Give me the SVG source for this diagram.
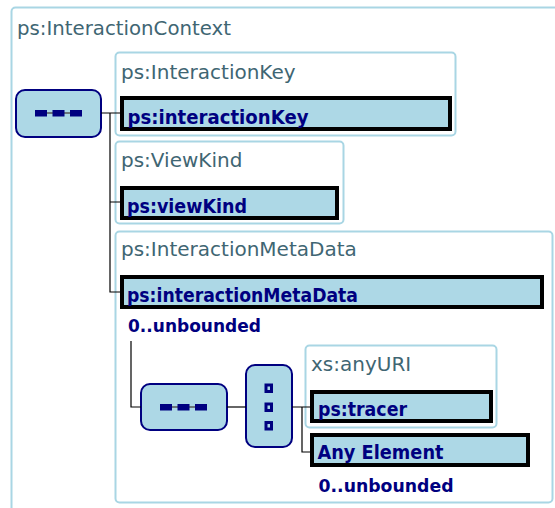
<svg xmlns="http://www.w3.org/2000/svg" width="555" height="508" viewBox="0 0 555 508">
<style>
.frame{fill:#fff;stroke:#a9d6e4;stroke-width:2}
.title{font-family:"DejaVu Sans",Verdana,sans-serif;font-size:20px;fill:#3f6673}
.el{fill:#add8e6;stroke:#000;stroke-width:4}
.elt{font-family:"DejaVu Sans",Verdana,sans-serif;font-size:19px;font-weight:bold;fill:#000080}
.card{font-family:"DejaVu Sans",Verdana,sans-serif;font-size:18px;font-weight:bold;fill:#000080}
.comp{fill:#add8e6;stroke:#000080;stroke-width:2}
.ico{fill:#000080}
.conn{fill:none;stroke:#000;stroke-width:1.2}
</style>
<rect width="555" height="508" fill="#fff"/>
<g id="InteractionContext">
<rect class="frame" x="11.5" y="7.5" width="560" height="520" rx="4"/>
<text class="title" x="17" y="35" textLength="214" lengthAdjust="spacingAndGlyphs">ps:InteractionContext</text>
</g>
<g id="seq1">
<rect class="comp" x="16" y="90" width="85" height="47" rx="9"/>
<line x1="36" y1="113" x2="81" y2="113" stroke="#555" stroke-width="1.5"/>
<rect class="ico" x="35" y="110" width="12" height="6.5"/>
<rect class="ico" x="52.5" y="110" width="12" height="6.5"/>
<rect class="ico" x="70" y="110" width="12" height="6.5"/>
</g>
<g id="InteractionKey">
<rect class="frame" x="115.5" y="52.5" width="340" height="83" rx="4"/>
<text class="title" x="121" y="79">ps:InteractionKey</text>
<rect class="el" x="122" y="98" width="328" height="31"/>
<text class="elt" x="127.5" y="123.5" textLength="181" lengthAdjust="spacingAndGlyphs">ps:interactionKey</text>
</g>
<g id="ViewKind">
<rect class="frame" x="115.5" y="141.5" width="228" height="82" rx="4"/>
<text class="title" x="121" y="167">ps:ViewKind</text>
<rect class="el" x="122" y="188" width="215" height="30"/>
<text class="elt" x="127" y="213" textLength="120" lengthAdjust="spacingAndGlyphs">ps:viewKind</text>
</g>
<g id="InteractionMetaData">
<rect class="frame" x="115.5" y="231.5" width="437" height="271" rx="4"/>
<text class="title" x="121" y="256">ps:InteractionMetaData</text>
<rect class="el" x="122" y="277" width="420" height="30"/>
<text class="elt" x="127" y="302" textLength="231" lengthAdjust="spacingAndGlyphs">ps:interactionMetaData</text>
<text class="card" x="128" y="332" textLength="133" lengthAdjust="spacingAndGlyphs">0..unbounded</text>
</g>
<g id="seq2">
<rect class="comp" x="141" y="384" width="86" height="46" rx="9"/>
<line x1="161" y1="407" x2="206" y2="407" stroke="#555" stroke-width="1.5"/>
<rect class="ico" x="160" y="404" width="12" height="6.5"/>
<rect class="ico" x="177.5" y="404" width="12" height="6.5"/>
<rect class="ico" x="195" y="404" width="12" height="6.5"/>
</g>
<g id="choice">
<rect class="comp" x="246" y="365" width="46" height="82" rx="9"/>
<rect class="ico" x="264.5" y="383.5" width="8.5" height="9.5"/>
<rect x="267.5" y="386.5" width="2.5" height="3.5" fill="#add8e6"/>
<rect class="ico" x="264.5" y="402.5" width="8.5" height="9.5"/>
<rect x="267.5" y="405.5" width="2.5" height="3.5" fill="#add8e6"/>
<rect class="ico" x="264.5" y="421" width="8.5" height="9.5"/>
<rect x="267.5" y="424" width="2.5" height="3.5" fill="#add8e6"/>
</g>
<g id="tracer">
<rect class="frame" x="305.5" y="345.5" width="191" height="82" rx="4"/>
<text class="title" x="311" y="371">xs:anyURI</text>
<rect class="el" x="312" y="392" width="179" height="29"/>
<text class="elt" x="318" y="416" textLength="89" lengthAdjust="spacingAndGlyphs">ps:tracer</text>
</g>
<g id="anyElement">
<rect class="el" x="312" y="435" width="216" height="30"/>
<text class="elt" x="317.5" y="459" textLength="126" lengthAdjust="spacingAndGlyphs">Any Element</text>
<text class="card" x="318.5" y="492" textLength="135" lengthAdjust="spacingAndGlyphs">0..unbounded</text>
</g>
<g id="connectors">
<path class="conn" d="M101 113H120M110 113V292H120M110 202H120"/>
<path class="conn" d="M131 341V407H141"/>
<path class="conn" d="M227 407H246"/>
<path class="conn" d="M292 407H310M302 407V452H310"/>
</g>
</svg>
